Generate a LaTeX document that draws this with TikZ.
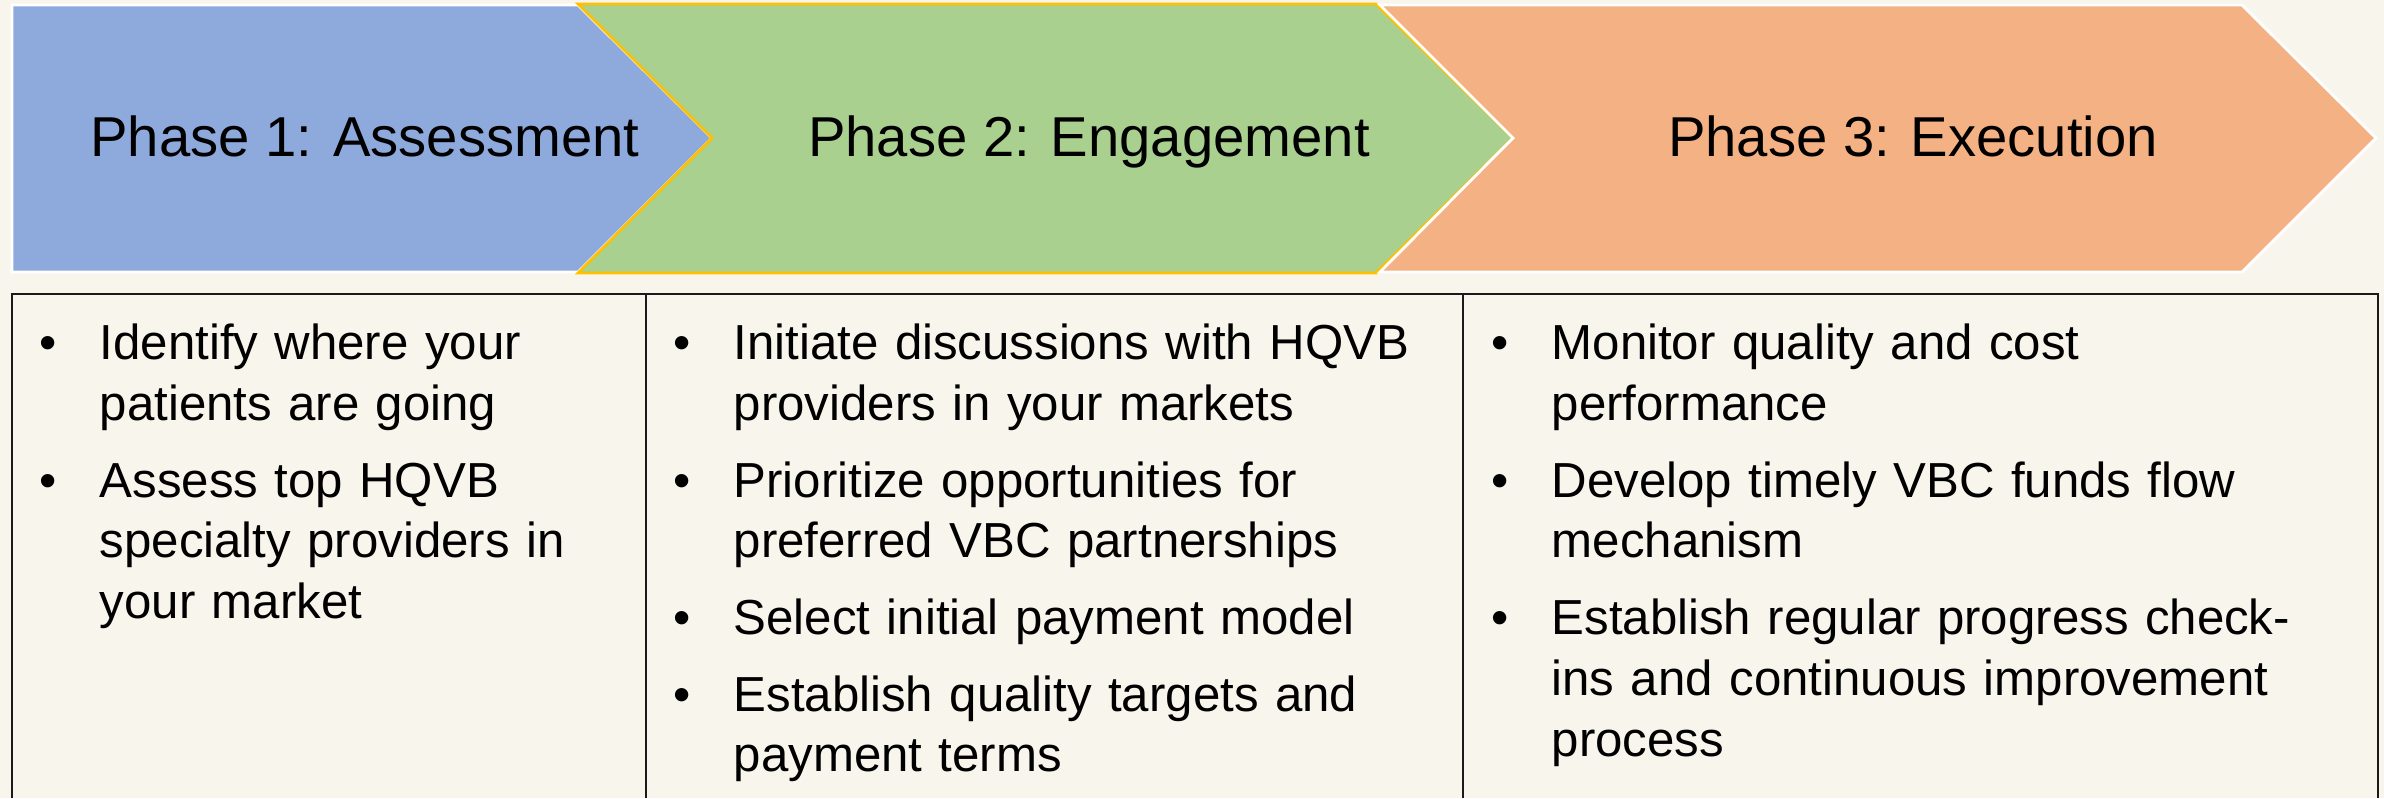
\documentclass[tikz,border=0pt]{standalone}
\usepackage{fontspec}
\setmainfont{Liberation Sans}
\usepackage{tikz}

\definecolor{paper}{HTML}{F8F5EC}
\definecolor{phaseblue}{HTML}{8EA9DB}
\definecolor{phasegreen}{HTML}{A9D08E}
\definecolor{phaseorange}{HTML}{F4B183}
\definecolor{gold}{HTML}{FFC000}
\definecolor{rulegray}{HTML}{1A1A1A}

% one bullet point, bullet hung to the left of the text
\newcommand{\task}[1]{\par\addvspace{4.5pt}\noindent\llap{\makebox[6mm][l]{\textbullet}}#1}

\begin{document}
\begin{tikzpicture}[x=0.1mm, y=-0.1mm,
    chevron/.style={line width=0.8pt, line join=miter},
    heading/.style={anchor=base, inner sep=0pt, font=\fontsize{16}{19}\selectfont},
    steps/.style={anchor=base west, inner sep=0pt, align=left, font=\fontsize{14}{17.3}\selectfont},
    grid/.style={draw=rulegray, line width=0.6pt}]
  \useasboundingbox (0,0) rectangle (2384,798);
  \fill[paper] (0,0) rectangle (2384,798);

  % the three phase arrows
  \filldraw[chevron, fill=phaseblue, draw=white]
    (12,5) -- (578,5) -- (712,138) -- (578,272) -- (12,272) -- cycle;
  \filldraw[chevron, fill=phasegreen, draw=gold]
    (578,4) -- (1376,4) -- (1513,138) -- (1376,273) -- (578,273) -- (712,138) -- cycle;
  \filldraw[chevron, fill=phaseorange, draw=white]
    (1380,5) -- (2242,5) -- (2376,138) -- (2242,272) -- (1380,272) -- (1513,138) -- cycle;

  \node[heading] (assessment) at (365,156) {Phase 1: Assessment};
  \node[heading] (engagement) at (1089,156) {Phase 2: Engagement};
  \node[heading] (execution) at (1913,156) {Phase 3: Execution};

  % table below the arrows, open at the bottom
  \draw[grid] (12,798) -- (12,294) -- (2378,294) -- (2378,798);
  \draw[grid] (646,294) -- (646,798);
  \draw[grid] (1463,294) -- (1463,798);

  \node[steps, text width=5.45cm] (assesslist) at (99,283) {%
    \task{Identify where your\\patients are going}
    \task{Assess top HQVB\\specialty providers in\\your market}};
  \node[steps, text width=7.25cm] (engagelist) at (733,283) {%
    \task{Initiate discussions with HQVB\\providers in your markets}
    \task{Prioritize opportunities for\\preferred VBC partnerships}
    \task{Select initial payment model}
    \task{Establish quality targets and\\payment terms}};
  \node[steps, text width=8.2cm] (executelist) at (1551,283) {%
    \task{Monitor quality and cost\\performance}
    \task{Develop timely VBC funds flow\\mechanism}
    \task{Establish regular progress check-\\ins and continuous improvement\\process}};
\end{tikzpicture}
\end{document}
